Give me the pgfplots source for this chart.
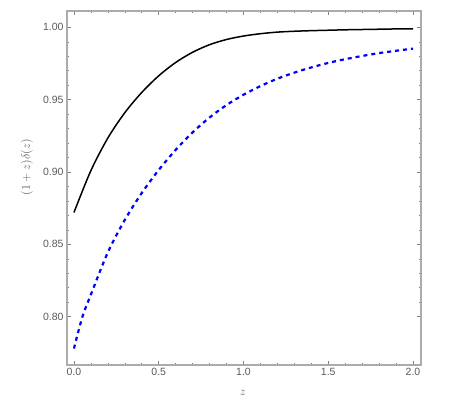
\documentclass[border=0pt]{standalone}
\usepackage{pgfplots}
\pgfplotsset{compat=1.18}
\usepackage{fontspec}
\setmainfont{Liberation Sans}
\definecolor{framegray}{HTML}{ABABAB}
\definecolor{labgray}{HTML}{5A5A5A}
\definecolor{tickgray}{HTML}{808080}
\begin{document}
\begin{tikzpicture}
\begin{axis}[
  scale only axis,
  width=354pt, height=354pt,
  xmin=-0.041, xmax=2.047,
  ymin=0.7666, ymax=1.0113,
  xtick={0,0.5,1,1.5,2},
  ytick={0.80,0.85,0.90,0.95,1.00},
  minor x tick num=4,
  minor y tick num=4,
  tick align=inside,
  major tick length=4pt,
  minor tick length=2pt,
  every tick/.style={draw=tickgray, line width=0.6pt},
  axis line style={draw=framegray, line width=1.6pt},
  /pgf/number format/assume math mode=true,
  xticklabel style={/pgf/number format/.cd, fixed, fixed zerofill, precision=1},
  yticklabel style={/pgf/number format/.cd, fixed, fixed zerofill, precision=2},
  tick label style={font=\fontsize{10.5}{12}\selectfont, text=labgray},
  xlabel={$z$},
  ylabel={$(1+z)\delta(z)$},
  label style={font=\fontsize{13}{15}\selectfont, text=labgray},
  xlabel style={at={(axis description cs:0.497,-0.079)}, anchor=center},
  ylabel style={at={(axis description cs:-0.113,0.559)}, anchor=center},
  clip=true,
]
\addplot[black, line width=1.5pt, smooth] coordinates {
(0,0.8720) (0.1,0.9010) (0.2,0.9235) (0.3,0.9410) (0.4,0.9550)
(0.5,0.9665) (0.6,0.9757) (0.7,0.9828) (0.8,0.9880) (0.9,0.9916)
(1.0,0.9940) (1.1,0.9956) (1.2,0.9967) (1.3,0.9973) (1.4,0.9977)
(1.5,0.9980) (1.6,0.9983) (1.7,0.9985) (1.8,0.9987) (1.9,0.9989) (2.0,0.9990)
};
\addplot[blue, line width=2.2pt, dash pattern=on 4pt off 4pt, smooth] coordinates {
(0,0.7780) (0.05,0.8000) (0.1,0.8153) (0.2,0.8445) (0.3,0.8669)
(0.4,0.8855) (0.5,0.9014) (0.6,0.9153) (0.7,0.9274) (0.8,0.9377)
(0.9,0.9463) (1.0,0.9534) (1.1,0.9594) (1.2,0.9645) (1.3,0.9687)
(1.4,0.9723) (1.5,0.9754) (1.6,0.9780) (1.7,0.9802) (1.8,0.9822)
(1.9,0.9838) (2.0,0.9853)
};
\end{axis}
\path ([shift={(-67pt,-52pt)}]current axis.south west) rectangle ([shift={(31pt,11pt)}]current axis.north east);
\end{tikzpicture}
\end{document}
